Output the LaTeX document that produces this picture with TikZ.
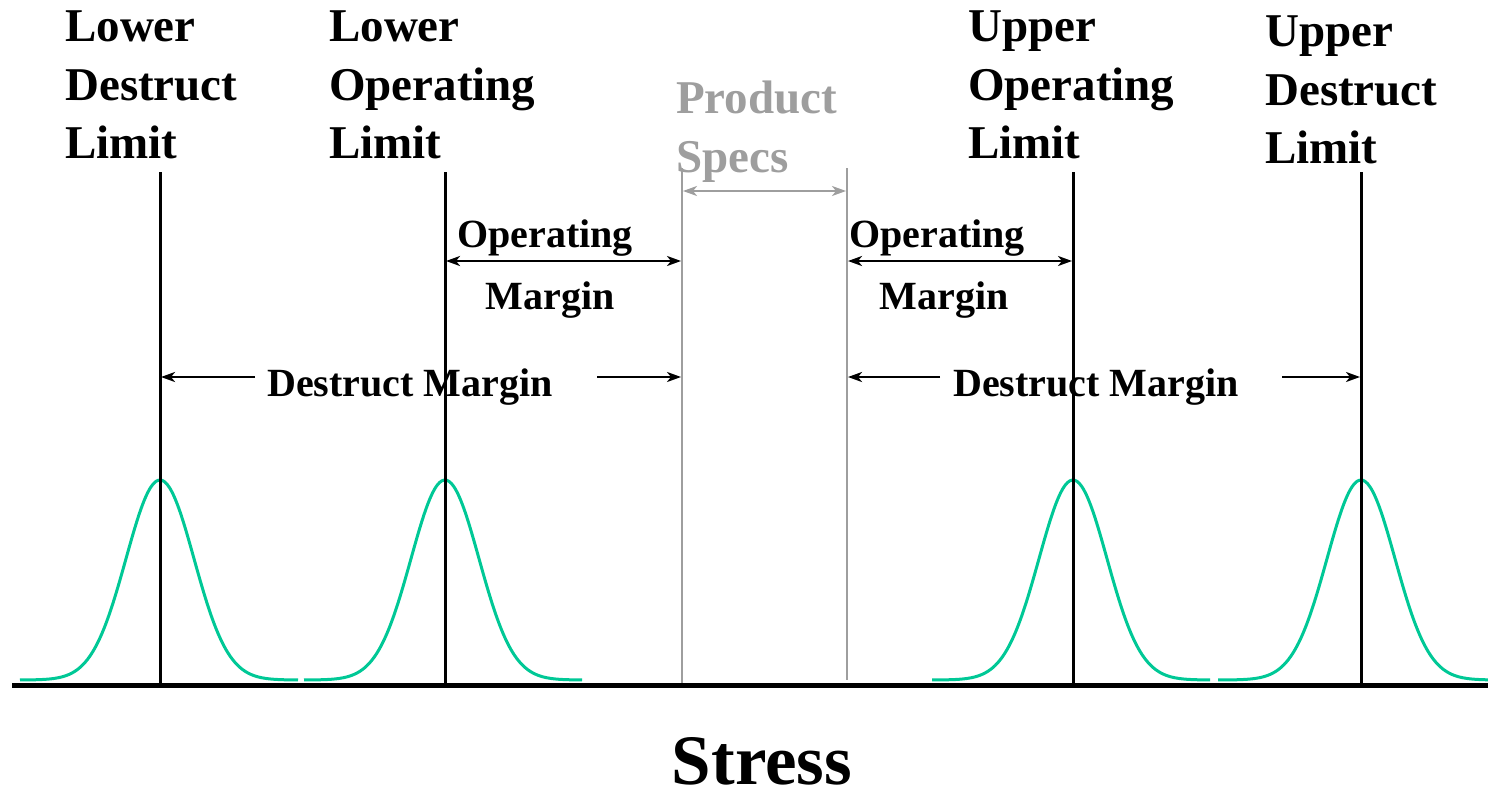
\documentclass[tikz,border=0pt]{standalone}
\usepackage{fontspec}
\setmainfont{Liberation Serif}
\usetikzlibrary{arrows.meta}
\definecolor{curvegreen}{RGB}{0,200,150}
\definecolor{specgray}{RGB}{158,158,158}
\begin{document}
\begin{tikzpicture}[x=1pt,y=-1pt,
  toplabel/.style={font=\fontsize{47}{58.5}\selectfont\bfseries, align=left, inner sep=0pt, anchor=north west},
  marglabel/.style={font=\fontsize{40}{48}\selectfont\bfseries, inner sep=0pt, anchor=base},
  limitline/.style={line width=3pt, black},
  specline/.style={line width=2.8pt, specgray},
  dimarrow/.style={line width=2.3pt, -{Stealth[length=14pt,width=10pt,inset=4pt]}},
  dimboth/.style={line width=2.3pt, {Stealth[length=14pt,width=10pt,inset=4pt]}-{Stealth[length=14pt,width=10pt,inset=4pt]}},
  bell/.style={line width=3pt, curvegreen, line join=round},
]
\useasboundingbox (0,0) rectangle (1488,792);

% limit lines
\coordinate (ldlT) at (160,172); \coordinate (ldlB) at (160,686);
\coordinate (lolT) at (445,172); \coordinate (lolB) at (445,686);
\coordinate (uolT) at (1073,172); \coordinate (uolB) at (1073,686);
\coordinate (udlT) at (1361,172); \coordinate (udlB) at (1361,686);
\coordinate (lsT) at (682,168); \coordinate (lsB) at (682,686);
\coordinate (rsT) at (847,168); \coordinate (rsB) at (847,680);

% bell curves
\foreach \c/\a/\b in {160/-140/138, 445/-141/137, 1073/-141/137, 1361/-143/127}{
  \draw[bell] plot[domain=\a:\b, samples=120, smooth] ({\c+\x},{680-200*exp(-0.5*(\x/34)*(\x/34))});
}

\draw[limitline] (ldlT) -- (ldlB);
\draw[limitline] (lolT) -- (lolB);
\draw[limitline] (uolT) -- (uolB);
\draw[limitline] (udlT) -- (udlB);
\draw[specline] (lsT) -- (lsB);
\draw[specline] (rsT) -- (rsB);

% axis
\coordinate (axL) at (12,685); \coordinate (axR) at (1488,685);
\draw[line width=5pt] (axL) -- (axR);

% top labels
\node[toplabel] (ldl) at (65,11) {Lower\\Destruct\\Limit};
\node[toplabel] (lol) at (329,11) {Lower\\Operating\\Limit};
\node[toplabel, text=specgray] (ps) at (676,81) {Product\\Specs};
\node[toplabel] (uol) at (968,11) {Upper\\Operating\\Limit};
\node[toplabel] (udl) at (1265,16) {Upper\\Destruct\\Limit};

% product specs arrow
\coordinate (psL) at (683,191); \coordinate (psR) at (846,191);
\draw[dimboth, line width=1.8pt, specgray] (psL) -- (psR);

% operating margins
\coordinate (omL1) at (446,261); \coordinate (omL2) at (681,261);
\coordinate (omR1) at (848,261); \coordinate (omR2) at (1072,261);
\draw[dimboth] (omL1) -- (omL2);
\draw[dimboth] (omR1) -- (omR2);
\node[marglabel] (omLa) at (545,247) {Operating};
\node[marglabel] (omLb) at (550,309) {Margin};
\node[marglabel] (omRa) at (937,247) {Operating};
\node[marglabel] (omRb) at (944,309) {Margin};

% destruct margins
\coordinate (dmL1s) at (255,377); \coordinate (dmL1e) at (161,377);
\coordinate (dmL2s) at (597,377); \coordinate (dmL2e) at (681,377);
\coordinate (dmR1s) at (940,377); \coordinate (dmR1e) at (848,377);
\coordinate (dmR2s) at (1282,377); \coordinate (dmR2e) at (1360,377);
\draw[dimarrow] (dmL1s) -- (dmL1e);
\draw[dimarrow] (dmL2s) -- (dmL2e);
\draw[dimarrow] (dmR1s) -- (dmR1e);
\draw[dimarrow] (dmR2s) -- (dmR2e);
\node[marglabel] (dmL) at (410,396) {Destruct Margin};
\node[marglabel] (dmR) at (1096,396) {Destruct Margin};

% axis label
\node[font=\fontsize{71}{80}\selectfont\bfseries, inner sep=0pt, anchor=base] (stress) at (762,784) {Stress};
\end{tikzpicture}
\end{document}
